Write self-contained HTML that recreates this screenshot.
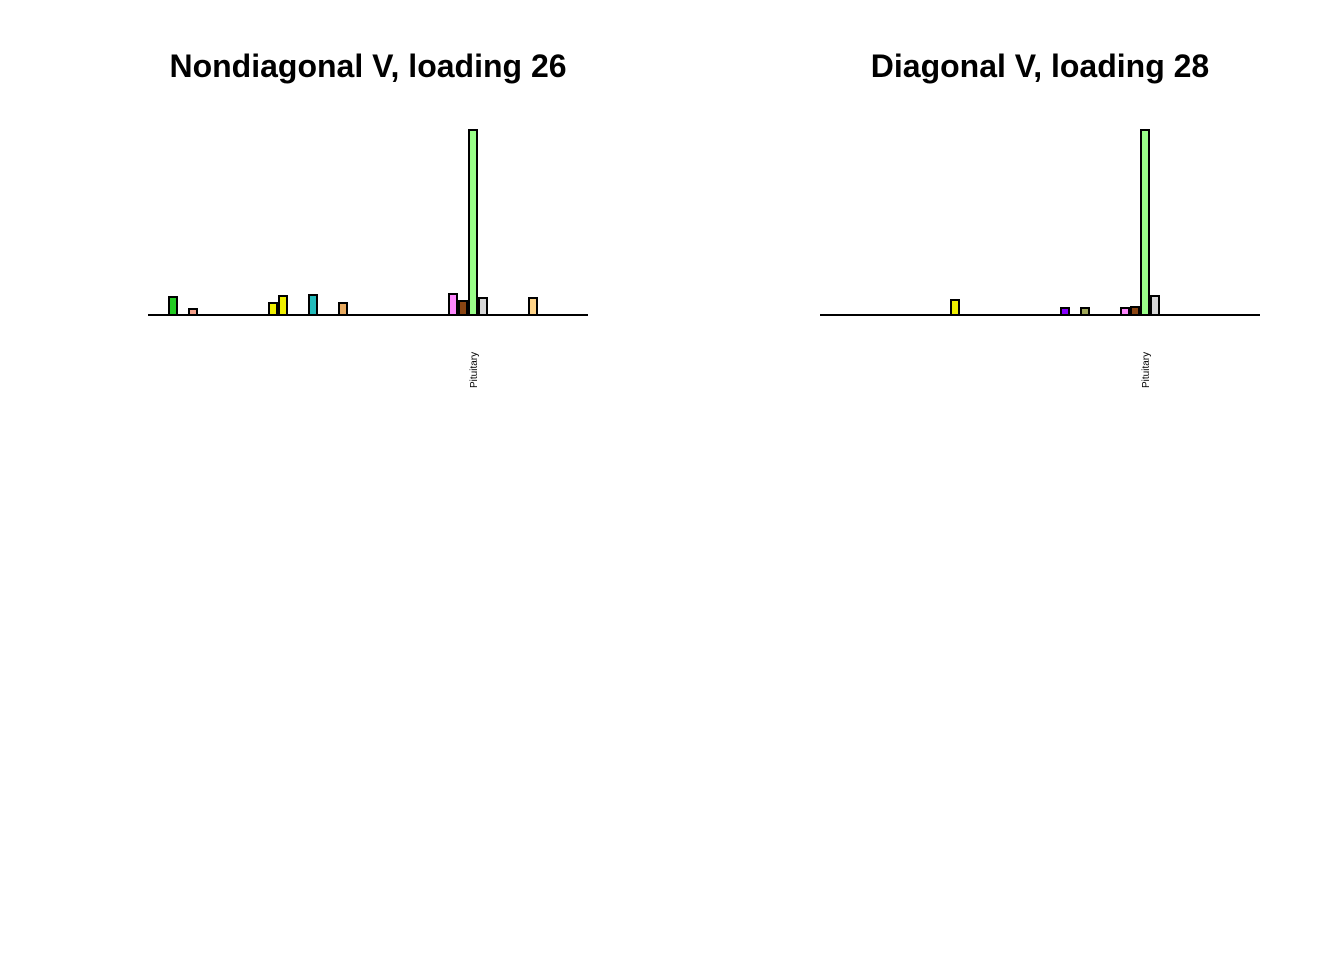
<!DOCTYPE html>
<html><head><style>body{margin:0;background:#fff}</style></head><body>
<svg width="1344" height="960" xmlns="http://www.w3.org/2000/svg" font-family="Liberation Sans, sans-serif">
<rect width="1344" height="960" fill="#fff"/>
<text x="368" y="77" text-anchor="middle" font-size="32" font-weight="bold">Nondiagonal V, loading 26</text>
<text x="1040" y="77" text-anchor="middle" font-size="32" font-weight="bold">Diagonal V, loading 28</text>
<g stroke="#000" stroke-width="2">
<line x1="148" y1="315" x2="588" y2="315"/>
<line x1="820" y1="315" x2="1260" y2="315"/>
</g>
<g stroke="#000" stroke-width="2" transform="translate(1,0)">
<rect x="168" y="297" width="8" height="18" fill="#22cc22"/>
<rect x="188" y="309" width="8" height="6" fill="#f4a08a"/>
<rect x="268" y="303" width="8" height="12" fill="#eeee00"/>
<rect x="278" y="296" width="8" height="19" fill="#eeee00"/>
<rect x="308" y="295" width="8" height="20" fill="#22bbbb"/>
<rect x="338" y="303" width="8" height="12" fill="#e8aa60"/>
<rect x="448" y="294" width="8" height="21" fill="#ff88ff"/>
<rect x="458" y="301" width="8" height="14" fill="#8b4513"/>
<rect x="468" y="130" width="8" height="185" fill="#99ff88"/>
<rect x="478" y="298" width="8" height="17" fill="#d6d6d6"/>
<rect x="528" y="298" width="8" height="17" fill="#ffd488"/>
<rect x="950" y="300" width="8" height="15" fill="#eeee00"/>
<rect x="1060" y="308" width="8" height="7" fill="#8800ff"/>
<rect x="1080" y="308" width="8" height="7" fill="#a0a858"/>
<rect x="1120" y="308" width="8" height="7" fill="#ff88ff"/>
<rect x="1130" y="307" width="8" height="8" fill="#8b4513"/>
<rect x="1140" y="130" width="8" height="185" fill="#99ff88"/>
<rect x="1150" y="296" width="8" height="19" fill="#d6d6d6"/>
</g>
<text transform="translate(477,388) rotate(-90)" font-size="10">Pituitary</text>
<text transform="translate(1149,388) rotate(-90)" font-size="10">Pituitary</text>
</svg>
</body></html>
